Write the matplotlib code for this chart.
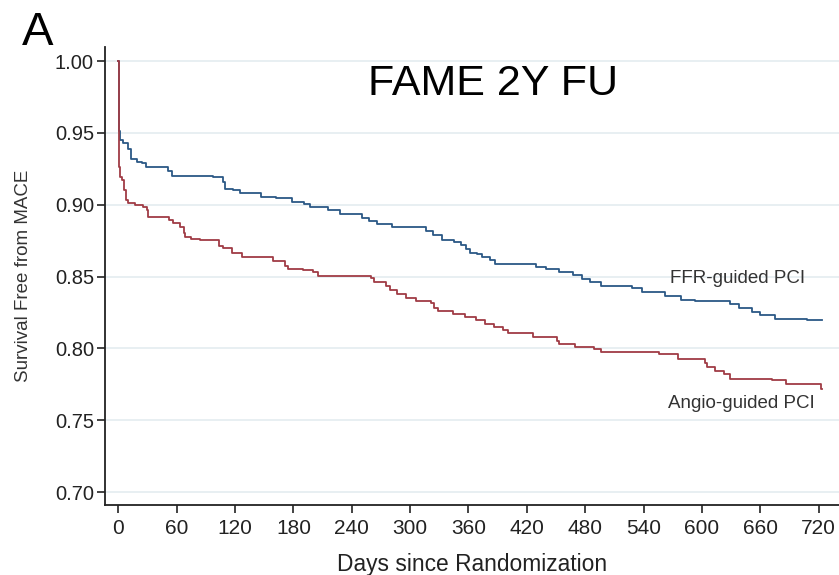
import numpy as np
import matplotlib
matplotlib.use("Agg")
import matplotlib.pyplot as plt

plt.rcParams['font.family'] = ['Liberation Sans', 'DejaVu Sans']

# Kaplan-Meier steps (day, survival)
ffr_days = [0, 0.5, 2, 4.5, 9.6, 13, 18.8, 24, 28.4, 51, 55, 97, 108, 110, 118, 125, 147, 162,
            179, 191, 197, 216, 228, 251, 258, 266, 281, 316, 324, 333, 345, 352, 357, 362, 369,
            374, 382, 387, 429, 440, 453, 467, 477, 485, 496, 528, 538, 562, 579, 593, 629, 638,
            652, 660, 675, 708, 724]
ffr_surv = [1.0, 0.951, 0.945, 0.943, 0.9385, 0.932, 0.930, 0.9288, 0.926, 0.9236, 0.920, 0.919,
            0.916, 0.911, 0.910, 0.908, 0.9055, 0.9044, 0.902, 0.9004, 0.8985, 0.8962, 0.8939,
            0.8905, 0.8888, 0.8865, 0.8842, 0.8818, 0.8788, 0.8758, 0.8742, 0.8719, 0.8689,
            0.8665, 0.8656, 0.8637, 0.8614, 0.8591, 0.8568, 0.8552, 0.8533, 0.851, 0.8482,
            0.8459, 0.8435, 0.8417, 0.839, 0.8364, 0.834, 0.8329, 0.8306, 0.8282, 0.8254,
            0.8231, 0.8208, 0.820, 0.820]

angio_days = [0, 0.3, 2, 4, 5.5, 7.5, 10, 16.8, 25, 29, 30, 52, 56, 63, 67, 69, 75, 84, 103, 108,
              117, 127, 159, 171, 174, 190, 200, 205, 260, 263, 275, 279, 287, 296, 306, 321, 325,
              329, 344, 356, 368, 377, 386, 395, 401, 426, 451, 453, 470, 489, 496, 556, 575, 603,
              605, 614, 623, 629, 672, 686, 722, 724]
angio_surv = [1.0, 0.926, 0.919, 0.917, 0.910, 0.903, 0.9013, 0.8997, 0.8986, 0.8962, 0.8916,
              0.8893, 0.8874, 0.8846, 0.880, 0.8777, 0.8765, 0.8753, 0.8712, 0.8696, 0.8665,
              0.8633, 0.8609, 0.8572, 0.8556, 0.8545, 0.8533, 0.8505, 0.8487, 0.8459, 0.8435,
              0.8405, 0.8377, 0.8354, 0.8331, 0.8313, 0.8278, 0.8259, 0.8238, 0.822, 0.820,
              0.8169, 0.815, 0.8127, 0.8104, 0.808, 0.8052, 0.8034, 0.801, 0.7999, 0.7973,
              0.7958, 0.7923, 0.790, 0.7871, 0.7843, 0.782, 0.779, 0.7779, 0.7755, 0.772, 0.772]

xticks = np.arange(0, 721, 60)
yticks = [0.70, 0.75, 0.80, 0.85, 0.90, 0.95, 1.00]

fig = plt.figure(figsize=(8.39, 5.75), dpi=100)
ax = fig.add_axes([0.1252, 0.1217, 0.8748, 0.7966])

for y in yticks:
    ax.axhline(y, color="#e6eef1", lw=1.3, zorder=0)

ax.step(ffr_days, ffr_surv, where="post", color="#2b5886", lw=1.3)
ax.step(angio_days, angio_surv, where="post", color="#a03c45", lw=1.3)

ax.set_xlim(-13.7, 741)
ax.set_ylim(0.691, 1.0098)
ax.set_xticks(xticks)
ax.set_yticks(yticks)
ax.set_yticklabels(["%.2f" % v for v in yticks])

for s in ["top", "right"]:
    ax.spines[s].set_visible(False)
for s in ["left", "bottom"]:
    ax.spines[s].set_linewidth(1.3)
    ax.spines[s].set_color("#222222")

ax.tick_params(axis="x", length=6, width=1.2, pad=4, labelsize=15, colors="#222222")
ax.tick_params(axis="y", length=6, width=1.2, pad=2, labelsize=14.5, colors="#222222")

ax.set_xlabel("Days since Randomization", fontsize=16.4, color="#222222")
ax.xaxis.set_label_coords(0.5, -0.105)
ax.set_ylabel("Survival Free from MACE", fontsize=13.5, color="#333333")
ax.yaxis.set_label_coords(-0.099, 0.5)

ax.text(637, 0.849, "FFR-guided PCI", fontsize=13.5, color="#333333", ha="center", va="center")
ax.text(641, 0.7615, "Angio-guided PCI", fontsize=13.5, color="#333333", ha="center", va="center")

fig.text(0.5876, 0.8348, "FAME 2Y FU", fontsize=31, ha="center", va="baseline")
fig.text(0.026, 0.921, "A", fontsize=34, ha="left", va="baseline")

fig.savefig("out.png", dpi=100)
